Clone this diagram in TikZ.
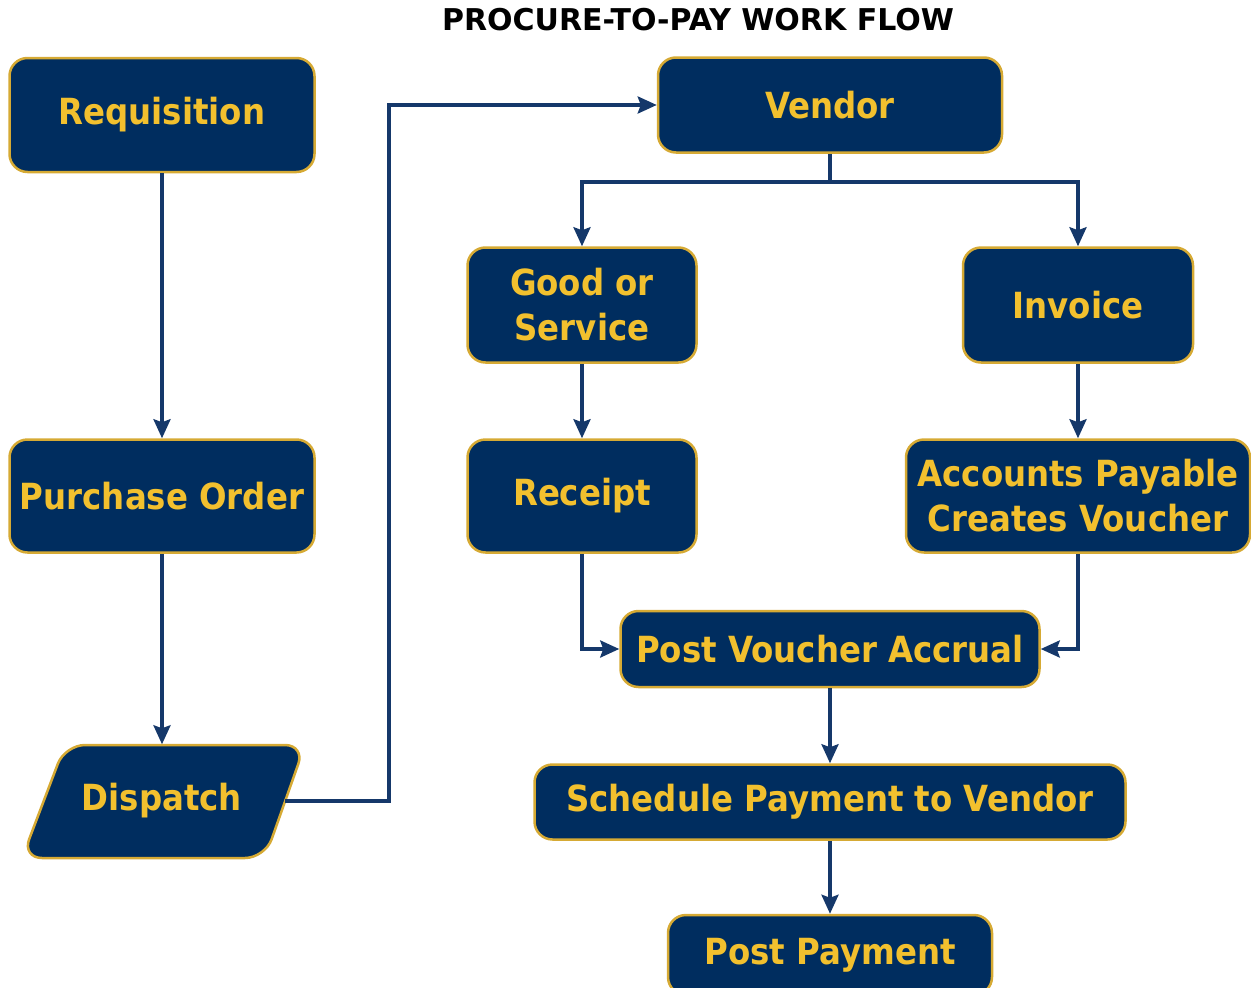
\documentclass[tikz,border=0pt]{standalone}
\usepackage{fontspec}
\setmainfont{DejaVu Sans}[FakeStretch=0.9]
\newfontfamily\titlefont{DejaVu Sans}
\usetikzlibrary{arrows.meta}
\definecolor{navyfill}{HTML}{002D5F}
\definecolor{goldline}{HTML}{D6AA34}
\definecolor{goldtext}{HTML}{F2C02E}
\definecolor{linkblue}{HTML}{15386A}
\tikzset{
  boxtext/.style={text=goldtext, font=\bfseries\fontsize{36}{45}\selectfont, align=center, inner sep=0pt},
  box/.style={boxtext, rectangle, rounded corners=18pt, fill=navyfill, draw=goldline, line width=2.5pt},
  parashape/.style={rounded corners=20pt, fill=navyfill, draw=goldline, line width=2.5pt},
  link/.style={draw=linkblue, line width=3.5pt, -{Stealth[length=19pt,width=17pt,inset=3pt]}},
  plain/.style={draw=linkblue, line width=3.5pt}
}
\begin{document}
\begin{tikzpicture}[x=1pt,y=-1pt]
\useasboundingbox (0,0) rectangle (1251,988);
\node[font=\titlefont\bfseries\fontsize{30}{34}\selectfont, text=black] (title) at (698,20) {PROCURE-TO-PAY WORK FLOW};
\node[box, minimum width=305pt, minimum height=114pt] (req) at (162,115) {Requisition};
\node[box, minimum width=305pt, minimum height=113pt] (po) at (162,496) {Purchase Order};
\draw[parashape] (65,745) -- (305,745) -- (265,858) -- (22,858) -- cycle;
\node[boxtext, minimum width=246pt, minimum height=113pt] (disp) at (162,801) {Dispatch};
\node[box, minimum width=344pt, minimum height=95pt] (vendor) at (830,105) {Vendor};
\node[box, minimum width=229pt, minimum height=115pt] (good) at (582,305) {Good or\\Service};
\node[box, minimum width=230pt, minimum height=115pt] (inv) at (1078,305) {Invoice};
\node[box, minimum width=229pt, minimum height=113pt] (rec) at (582,496) {Receipt};
\node[box, minimum width=344pt, minimum height=113pt] (ap) at (1078,496) {Accounts Payable\\Creates Voucher};
\node[box, minimum width=419pt, minimum height=76pt] (pva) at (830,649) {Post Voucher Accrual};
\node[box, minimum width=591pt, minimum height=75pt] (spv) at (830,802) {Schedule Payment to Vendor};
\node[box, minimum width=324pt, minimum height=80pt] (pp) at (830,955) {Post Payment};
\coordinate (split) at (830,182);
\draw[link] (req) -- (po);
\draw[link] (po) -- (disp);
\draw[link] (disp.east) -- (389,801) |- (vendor.west);
\draw[plain] (vendor.south) -- (split);
\draw[link] (split) -| (good.north);
\draw[link] (split) -| (inv.north);
\draw[link] (good) -- (rec);
\draw[link] (inv) -- (ap);
\draw[link] (rec.south) |- (pva.west);
\draw[link] (ap.south) |- (pva.east);
\draw[link] (pva) -- (spv);
\draw[link] (spv) -- (pp);
\end{tikzpicture}
\end{document}
